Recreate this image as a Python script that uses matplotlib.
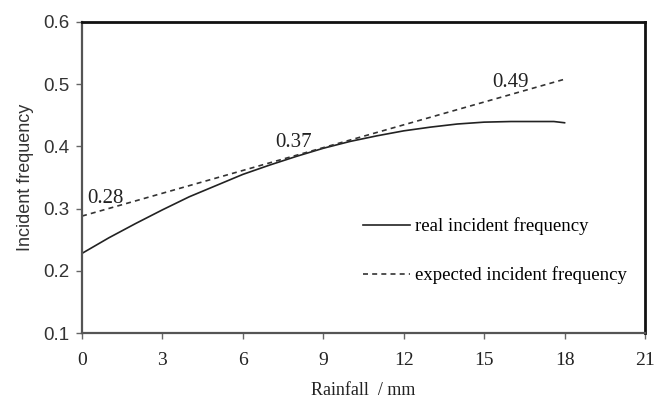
import numpy as np
import matplotlib
matplotlib.use("Agg")
from matplotlib import pyplot as plt

# Values
rain = [0, 1, 2, 3, 4, 5, 6, 7, 8, 9, 10, 11, 12, 13, 14, 15, 16, 17, 17.6, 18]
real_freq = [0.228, 0.253, 0.276, 0.298, 0.319, 0.337, 0.355, 0.370, 0.384, 0.397,
             0.408, 0.417, 0.425, 0.431, 0.436, 0.439, 0.440, 0.440, 0.440, 0.438]
exp_rain = [0, 18]
exp_freq = [0.288, 0.508]
labels = ["0.28", "0.37", "0.49"]
label_x = [0.2, 7.2, 15.3]
label_y = [0.317, 0.407, 0.503]
xticks = [0, 3, 6, 9, 12, 15, 18, 21]
yticks = [0.1, 0.2, 0.3, 0.4, 0.5, 0.6]

serif = "Liberation Serif"
sans = "Liberation Sans"

fig = plt.figure(figsize=(6.67, 3.98), dpi=100)
ax = fig.add_axes([82 / 667, 1 - 333 / 398, (645 - 82) / 667, (333 - 22) / 398])

ax.plot(rain, real_freq, color="#222222", lw=1.2, label="real incident frequency")
ax.plot(exp_rain, exp_freq, color="#333333", lw=1.2, ls=(0, (3, 2.5)),
        label="expected incident frequency")
for t, x, y in zip(labels, label_x, label_y):
    ax.text(x, y, t, family=serif, fontsize=15, color="#222222", va="center")

ax.set_xlim(0, 21)
ax.set_ylim(0.1, 0.6)
ax.set_xticks(xticks)
ax.set_yticks(yticks)
ax.set_xticklabels([str(v) for v in xticks], family=serif, fontsize=14, color="#222222")
ax.set_yticklabels(["%.1f" % v for v in yticks], family=sans, fontsize=13.5, color="#333333")
ax.tick_params(direction="out", length=4, width=1, color="#666666", pad=5)
ax.tick_params(axis="x", pad=10)

for s in ["left", "bottom"]:
    ax.spines[s].set_color("#555555")
    ax.spines[s].set_linewidth(1.6)
for s in ["top", "right"]:
    ax.spines[s].set_color("#111111")
    ax.spines[s].set_linewidth(2)

ax.set_xlabel("Rainfall  / mm", family=serif, fontsize=13, color="#222222", labelpad=9)
ax.set_ylabel("Incident frequency", family=sans, fontsize=13, color="#333333", labelpad=7)

ax.legend(loc="upper left", bbox_to_anchor=(0.499, 0.372), frameon=False,
          borderaxespad=0, borderpad=0,
          prop={"family": serif, "size": 13.5}, handlelength=2.5, handletextpad=0.27,
          labelspacing=1.66)

fig.savefig("out.png", dpi=100)
